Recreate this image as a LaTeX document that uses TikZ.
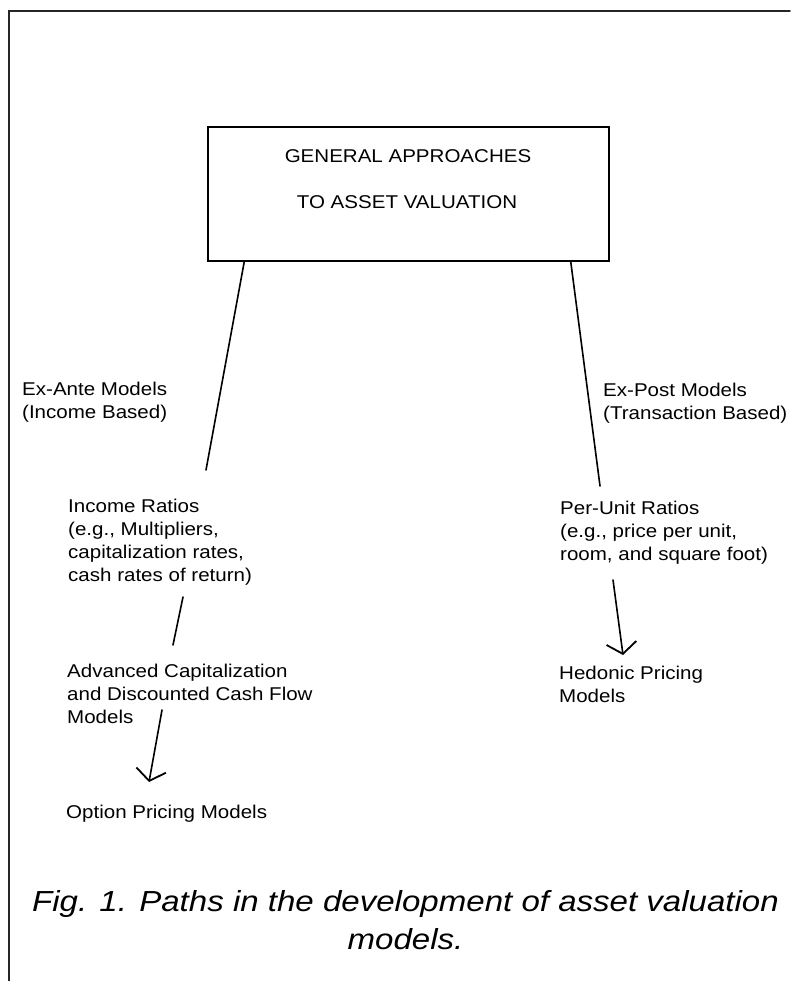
\documentclass[tikz,border=0pt]{standalone}
\usepackage{fontspec}
\setmainfont{Liberation Sans}[FakeStretch=1.11]
\newfontfamily\capfont{Liberation Sans}[FakeStretch=1.14]
\usetikzlibrary{arrows.meta}
\begin{document}
\begin{tikzpicture}[x=1pt,y=-1pt, line cap=round,
  conn/.style={line width=1.6pt},
  arr/.style={line width=1.6pt, -{Straight Barb[length=11pt,width=30pt,line width=1.8pt]}},
  lbl/.style={anchor=base west, align=left, inner sep=0pt, font=\fontsize{18.5}{23.2}\selectfont},
  boxtext/.style={anchor=base, inner sep=0pt, font=\fontsize{18.5}{23.2}\selectfont}]
\useasboundingbox (0,0) rectangle (790,981);
% frame
\draw[line width=1.6pt, black!85] (9,981) -- (9,11) -- (790,11);
% top box
\node[draw, line width=1.5pt, minimum width=401pt, minimum height=134pt, inner sep=0pt] (root) at (408.5,194) {};
\node[boxtext] (t1) at (408,163) {GENERAL APPROACHES};
\node[boxtext] (t2) at (407,209) {TO ASSET VALUATION};
% labels (positions are the baselines of the last lines)
\node[lbl] (exante) at (22,418.2) {Ex-Ante Models\\(Income Based)};
\node[lbl] (income) at (68,581.6) {Income Ratios\\(e.g., Multipliers,\\capitalization rates,\\cash rates of return)};
\node[lbl] (advanced) at (67,723.4) {Advanced Capitalization\\and Discounted Cash Flow\\Models};
\node[lbl] (option) at (66,818) {Option Pricing Models};
\node[lbl] (expost) at (603,419.2) {Ex-Post Models\\(Transaction Based)};
\node[lbl] (perunit) at (560,560.4) {Per-Unit Ratios\\(e.g., price per unit,\\room, and square foot)};
\node[lbl] (hedonic) at (559,702.2) {Hedonic Pricing\\Models};
% connector end points
\coordinate (incomeTop) at (206,470);
\coordinate (perunitTop) at (600,486);
\coordinate (incomeBot) at (183,597);
\coordinate (advancedTop) at (173,645);
\coordinate (advancedBot) at (162,710);
\coordinate (optionTop) at (149,782);
\coordinate (perunitBot) at (613,580);
\coordinate (hedonicTop) at (623,655);
% connectors
\draw[conn] ([xshift=37pt]root.south west) -- (incomeTop);
\draw[conn] ([xshift=-39pt]root.south east) -- (perunitTop);
\draw[conn] (incomeBot) -- (advancedTop);
\draw[arr] (advancedBot) -- (optionTop);
\draw[arr] (perunitBot) -- (hedonicTop);
% caption
\node[anchor=base, align=center, inner sep=0pt, font=\capfont\itshape\fontsize{29}{38}\selectfont] (caption) at (405.5,949) {Fig. 1. Paths in the development of asset valuation\\models.};
\end{tikzpicture}
\end{document}
